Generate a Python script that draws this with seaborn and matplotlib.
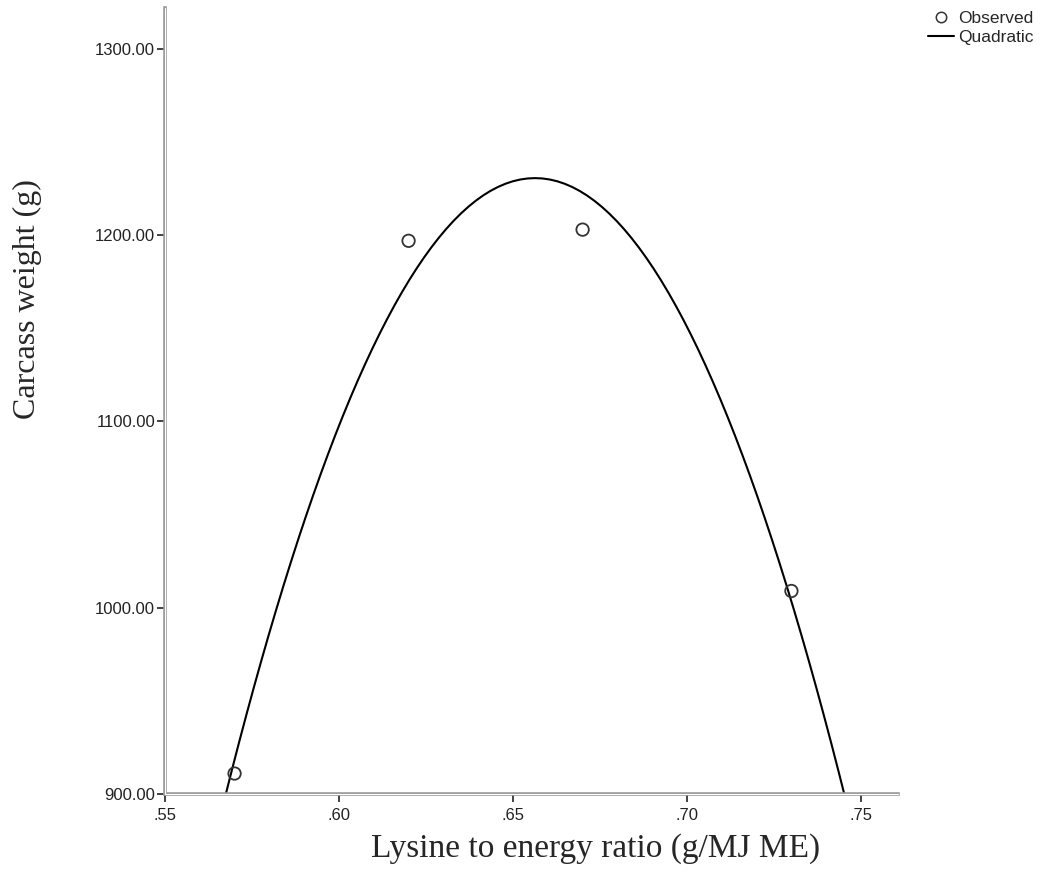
import numpy as np
import pandas as pd
import matplotlib
matplotlib.use("Agg")
import matplotlib.pyplot as plt
import seaborn as sns
from matplotlib.lines import Line2D
from matplotlib.ticker import FuncFormatter

# Observed means
lys_ratio = [0.57, 0.62, 0.67, 0.73]
carcass_wt = [911, 1197, 1203, 1009]
x_ticks = [0.55, 0.60, 0.65, 0.70, 0.75]
y_ticks = [900, 1000, 1100, 1200, 1300]

df = pd.DataFrame({"ratio": lys_ratio, "weight": carcass_wt})

sns.set_style("white")
plt.rcParams["font.family"] = ["Liberation Sans", "DejaVu Sans"]

fig = plt.figure(figsize=(10.48, 8.76), dpi=100)
ax = fig.add_axes([0.1574, 0.0936, 0.6994, 0.8973])
xlim = (0.55, 0.7606)
ylim = (900, 1322)
ax.set_xlim(*xlim)
ax.set_ylim(*ylim)

# quadratic fit line over the full x range
sns.regplot(data=df, x="ratio", y="weight", order=2, ci=None, scatter=False,
            truncate=False, ax=ax, line_kws={"color": "black", "lw": 1.5})
sns.scatterplot(data=df, x="ratio", y="weight", ax=ax, s=80,
                facecolors="none", edgecolor="#333333", linewidth=1.3, zorder=3)
ax.set_xlim(*xlim)
ax.set_ylim(*ylim)

ax.set_xticks(x_ticks)
ax.set_yticks(y_ticks)
ax.xaxis.set_major_formatter(FuncFormatter(lambda v, p: f"{v:.2f}".lstrip("0")))
ax.yaxis.set_major_formatter(FuncFormatter(lambda v, p: f"{v:.2f}"))
ax.tick_params(axis="both", bottom=True, left=True, direction="out", length=6,
               width=1.2, colors="#222222", labelsize=12)
ax.tick_params(axis="x", pad=4)
ax.tick_params(axis="y", pad=1)

for side in ["top", "right"]:
    ax.spines[side].set_visible(False)
for side in ["left", "bottom"]:
    ax.spines[side].set_color("#9a9a9a")
    ax.spines[side].set_linewidth(2.6)
# white gap to give the double-line look
ax.plot([0, 1], [0, 0], transform=ax.transAxes, color="white", lw=0.8, clip_on=False, zorder=5)
ax.plot([0, 0], [0, 1], transform=ax.transAxes, color="white", lw=0.8, clip_on=False, zorder=5)

ax.set_xlabel("Lysine to energy ratio (g/MJ ME)", family="Liberation Serif", fontsize=24)
ax.set_ylabel("Carcass weight (g)", family="Liberation Serif", fontsize=23)
ax.xaxis.set_label_coords(0.588, -0.05)
ax.yaxis.set_label_coords(-0.168, 0.63)

handles = [
    Line2D([], [], marker="o", linestyle="none", markerfacecolor="none",
           markeredgecolor="#333333", markersize=7.5, markeredgewidth=1.1),
    Line2D([], [], color="black", lw=1.5),
]
fig.legend(handles, ["Observed", "Quadratic"], loc="upper left",
           bbox_to_anchor=(0.8855, 0.988), frameon=False, fontsize=12.5,
           handlelength=1.5, handletextpad=0.25, labelspacing=0.25,
           borderpad=0, borderaxespad=0)

fig.savefig("out.png", dpi=100)
